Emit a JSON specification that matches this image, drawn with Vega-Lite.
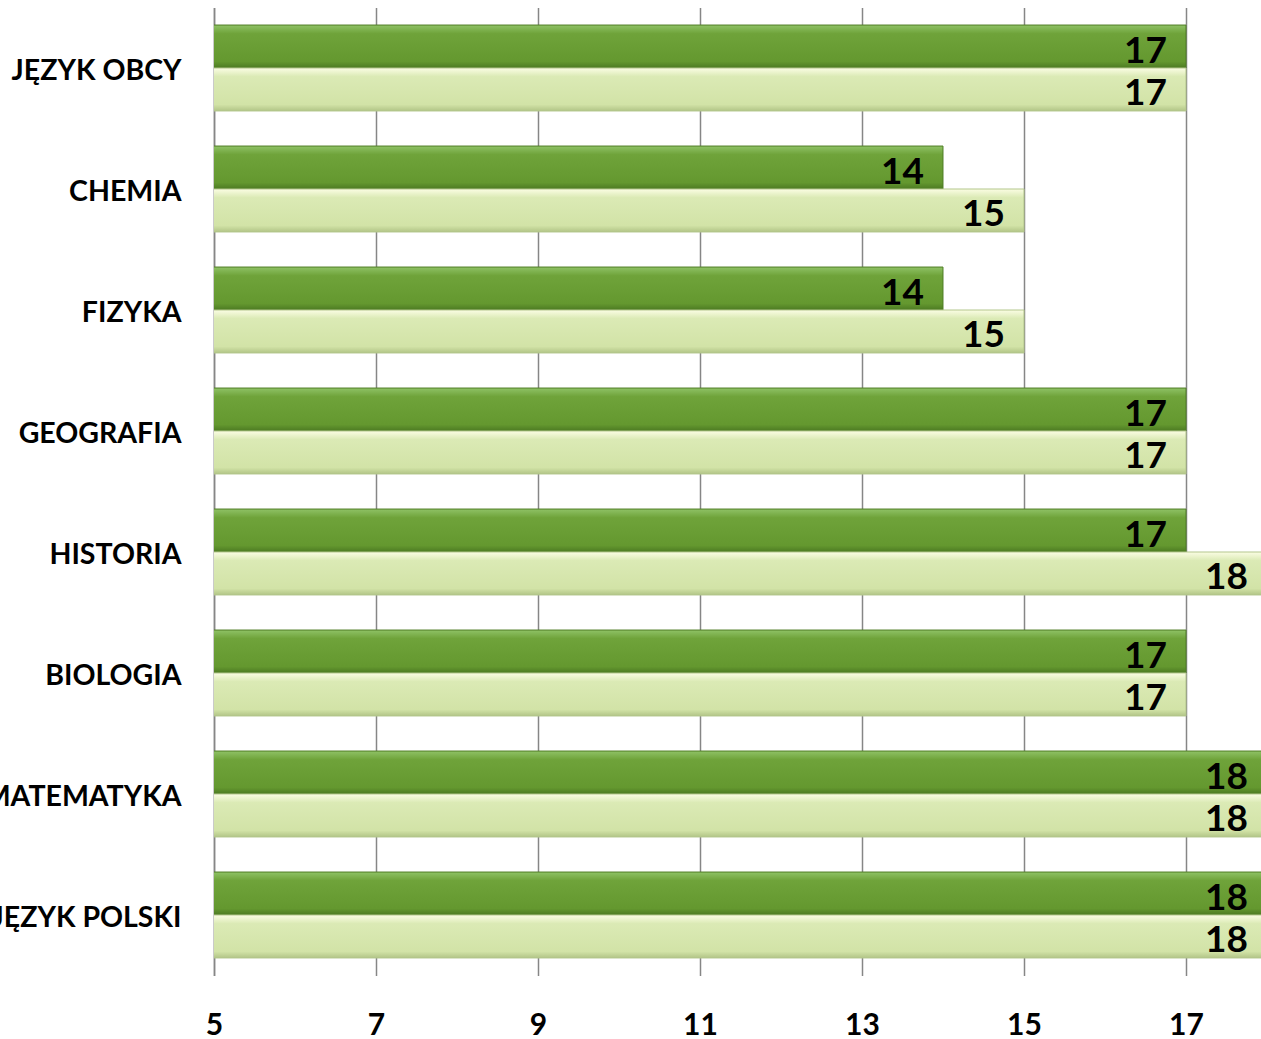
{
  "$schema": "https://vega.github.io/schema/vega-lite/v6.json",
  "autosize": {"type": "none"},
  "width": 1047,
  "height": 968,
  "padding": {"left": 214, "top": 7.5, "right": 0, "bottom": 63.5},
  "background": "white",
  "config": {"view": {"stroke": null}, "font": "Lato"},
  "data": {"values": [
    {"przedmiot": "JĘZYK OBCY", "seria": "Seria 1", "wartosc": 17},
    {"przedmiot": "JĘZYK OBCY", "seria": "Seria 2", "wartosc": 17},
    {"przedmiot": "CHEMIA", "seria": "Seria 1", "wartosc": 14},
    {"przedmiot": "CHEMIA", "seria": "Seria 2", "wartosc": 15},
    {"przedmiot": "FIZYKA", "seria": "Seria 1", "wartosc": 14},
    {"przedmiot": "FIZYKA", "seria": "Seria 2", "wartosc": 15},
    {"przedmiot": "GEOGRAFIA", "seria": "Seria 1", "wartosc": 17},
    {"przedmiot": "GEOGRAFIA", "seria": "Seria 2", "wartosc": 17},
    {"przedmiot": "HISTORIA", "seria": "Seria 1", "wartosc": 17},
    {"przedmiot": "HISTORIA", "seria": "Seria 2", "wartosc": 18},
    {"przedmiot": "BIOLOGIA", "seria": "Seria 1", "wartosc": 17},
    {"przedmiot": "BIOLOGIA", "seria": "Seria 2", "wartosc": 17},
    {"przedmiot": "MATEMATYKA", "seria": "Seria 1", "wartosc": 18},
    {"przedmiot": "MATEMATYKA", "seria": "Seria 2", "wartosc": 18},
    {"przedmiot": "JĘZYK POLSKI", "seria": "Seria 1", "wartosc": 18},
    {"przedmiot": "JĘZYK POLSKI", "seria": "Seria 2", "wartosc": 18}
  ]},
  "encoding": {
    "y": {
      "field": "przedmiot", "type": "nominal",
      "sort": ["JĘZYK OBCY", "CHEMIA", "FIZYKA", "GEOGRAFIA", "HISTORIA", "BIOLOGIA", "MATEMATYKA", "JĘZYK POLSKI"],
      "scale": {"paddingInner": 0.29, "paddingOuter": 0.145},
      "axis": {
        "title": null, "ticks": false, "labelPadding": 33, "labelOffset": 3,
        "labelFont": "Lato", "labelFontSize": 28.5, "labelFontWeight": "bold", "labelColor": "#000000",
        "domainColor": "#868686", "domainWidth": 1.5, "grid": false, "labelLimit": 400
      }
    },
    "yOffset": {"field": "seria", "type": "nominal", "scale": {"domain": ["Seria 1", "Seria 2"], "paddingInner": 0}},
    "x": {
      "field": "wartosc", "type": "quantitative",
      "scale": {"domain": [5, 17.926], "nice": false, "zero": false},
      "axis": {
        "title": null, "values": [5, 7, 9, 11, 13, 15, 17], "domain": false, "ticks": false,
        "grid": true, "gridColor": "#868686", "gridWidth": 1.5, "labelFlush": false,
        "labelPadding": 50, "labelBaseline": "middle",
        "labelFont": "Lato", "labelFontSize": 30, "labelFontWeight": "bold", "labelColor": "#000000"
      }
    }
  },
  "layer": [
    {
      "transform": [{"filter": "datum.seria === 'Seria 1'"}],
      "mark": {
        "type": "bar", "clip": true, "stroke": "#4f7d25", "strokeWidth": 1,
        "fill": {"gradient": "linear", "x1": 0, "y1": 0, "x2": 0, "y2": 1,
          "stops": [{"offset": 0, "color": "#8fc266"}, {"offset": 0.2, "color": "#6fa33a"}, {"offset": 0.85, "color": "#64982f"}, {"offset": 1, "color": "#4c7a22"}]}
      }
    },
    {
      "transform": [{"filter": "datum.seria === 'Seria 2'"}],
      "mark": {
        "type": "bar", "clip": true, "stroke": "#b3c68c", "strokeWidth": 1,
        "fill": {"gradient": "linear", "x1": 0, "y1": 0, "x2": 0, "y2": 1,
          "stops": [{"offset": 0, "color": "#fbfde4"}, {"offset": 0.2, "color": "#dbeab5"}, {"offset": 0.85, "color": "#d2e3a7"}, {"offset": 1, "color": "#b2c587"}]}
      }
    },
    {
      "mark": {"type": "text", "align": "right", "baseline": "middle", "dx": -19, "dy": 5,
        "font": "Lato", "fontSize": 37, "fontWeight": "bold", "color": "#000000"},
      "encoding": {"text": {"field": "wartosc", "type": "quantitative"}}
    }
  ]
}
